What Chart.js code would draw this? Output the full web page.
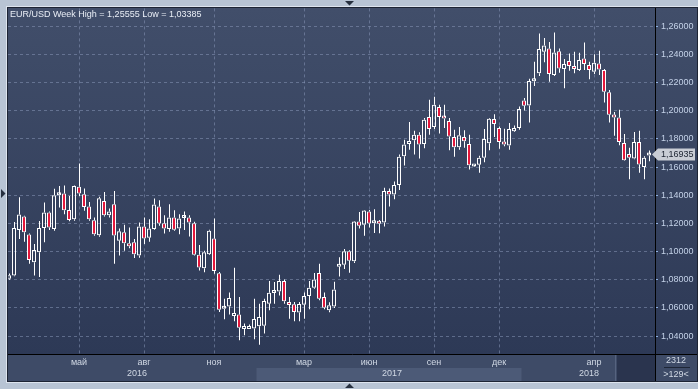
<!DOCTYPE html>
<html lang="ru">
<head>
<meta charset="UTF-8">
<title>EUR/USD Week</title>
<script src="https://cdn.jsdelivr.net/npm/chart.js"></script>
<style>
  html, body { margin: 0; padding: 0; background: #b8c4d4; }
  #chart { display: block; }
</style>
</head>
<body>
<canvas id="chart" width="698" height="389"></canvas>
<script>
// weekly EUR/USD candles, one entry per week
const opens = [
  1.0808, 1.0830, 1.1153, 1.1249, 1.1122, 1.0925, 1.0995, 1.1167, 1.1278, 1.1160,
  1.1400, 1.1412, 1.1296, 1.1230, 1.1461, 1.1407, 1.1320, 1.1223, 1.1117, 1.1360,
  1.1259, 1.1336, 1.1077, 1.1137, 1.1059, 1.1066, 1.0972, 1.1179, 1.1098, 1.1160,
  1.1320, 1.1202, 1.1160, 1.1243, 1.1165, 1.1238, 1.1243, 1.1202, 1.0978, 1.0882,
  1.0981, 1.1094, 1.0847, 1.0595, 1.0611, 1.0543, 1.0553, 1.0451, 1.0451, 1.0454,
  1.0470, 1.0473, 1.0630, 1.0706, 1.0717, 1.0791, 1.0635, 1.0626, 1.0567, 1.0623,
  1.0685, 1.0743, 1.0849, 1.0678, 1.0583, 1.0611, 1.0893, 1.0907, 1.1002, 1.0932,
  1.1214, 1.1190, 1.1285, 1.1202, 1.1214, 1.1207, 1.1430, 1.1405, 1.1473, 1.1677,
  1.1765, 1.1790, 1.1830, 1.1765, 1.1955, 1.1885, 1.2026, 1.1955, 1.1927, 1.1814,
  1.1741, 1.1814, 1.1765, 1.1605, 1.1617, 1.1666, 1.1770, 1.1941, 1.1878, 1.1781,
  1.1753, 1.1854, 1.1878, 1.2073, 1.2037, 1.2209, 1.2266, 1.2419, 1.2443, 1.2254,
  1.2423, 1.2296, 1.2353, 1.2318, 1.2289, 1.2372, 1.2325, 1.2277, 1.2336, 1.2289,
  1.2132, 1.1972, 1.1953, 1.1772, 1.1694, 1.1661, 1.1779, 1.1600, 1.1682
];
const highs = [
  1.0845, 1.1210, 1.1386, 1.1255, 1.1128, 1.1054, 1.1218, 1.1348, 1.1285, 1.1447,
  1.1466, 1.1470, 1.1395, 1.1470, 1.1626, 1.1449, 1.1353, 1.1243, 1.1390, 1.1423,
  1.1306, 1.1430, 1.1165, 1.1190, 1.1172, 1.1089, 1.1207, 1.1243, 1.1230, 1.1377,
  1.1365, 1.1259, 1.1336, 1.1294, 1.1266, 1.1285, 1.1259, 1.1212, 1.1047, 1.1007,
  1.1155, 1.1236, 1.0855, 1.0666, 1.0710, 1.0885, 1.0678, 1.0489, 1.0482, 1.0666,
  1.0630, 1.0666, 1.0791, 1.0784, 1.0835, 1.0802, 1.0678, 1.0642, 1.0642, 1.0710,
  1.0791, 1.0849, 1.0913, 1.0710, 1.0640, 1.0786, 1.0960, 1.1019, 1.1010, 1.1217,
  1.1282, 1.1296, 1.1296, 1.1301, 1.1225, 1.1454, 1.1449, 1.1497, 1.1689, 1.1795,
  1.1920, 1.1859, 1.1847, 1.1948, 1.2078, 1.2100, 1.2042, 1.2042, 1.1948, 1.1866,
  1.1885, 1.1861, 1.1830, 1.1615, 1.1681, 1.1871, 1.1948, 1.1976, 1.1889, 1.1873,
  1.1913, 1.1896, 1.2030, 1.2090, 1.2228, 1.2348, 1.2548, 1.2517, 1.2489, 1.25555,
  1.2443, 1.2367, 1.2407, 1.2419, 1.2412, 1.2484, 1.2348, 1.2402, 1.2426, 1.2296,
  1.2148, 1.1991, 1.2007, 1.1835, 1.1737, 1.1850, 1.1859, 1.1677, 1.1718
];
const lows = [
  1.0800, 1.0825, 1.1090, 1.1070, 1.0913, 1.0830, 1.0820, 1.1066, 1.1153, 1.1148,
  1.1313, 1.1266, 1.1215, 1.1220, 1.1395, 1.1290, 1.1220, 1.1113, 1.1105, 1.1249,
  1.1243, 1.0913, 1.0972, 1.1007, 1.1024, 1.0955, 1.0957, 1.1054, 1.1070, 1.1155,
  1.1183, 1.1129, 1.1141, 1.1148, 1.1124, 1.1153, 1.1108, 1.0972, 1.0866, 1.0854,
  1.0976, 1.0842, 1.0572, 1.0520, 1.0553, 1.0505, 1.0371, 1.0407, 1.0450, 1.0378,
  1.03385, 1.0419, 1.0583, 1.0630, 1.0689, 1.0630, 1.0524, 1.0505, 1.0505, 1.0524,
  1.0590, 1.0736, 1.0654, 1.0590, 1.0570, 1.0600, 1.0823, 1.0877, 1.0850, 1.0920,
  1.1165, 1.1113, 1.1172, 1.1132, 1.1130, 1.1179, 1.1320, 1.1372, 1.1437, 1.1612,
  1.1724, 1.1689, 1.1661, 1.1734, 1.1830, 1.1870, 1.1838, 1.1878, 1.1720, 1.1673,
  1.1724, 1.1737, 1.1583, 1.1600, 1.1560, 1.1635, 1.1720, 1.1814, 1.1731, 1.1748,
  1.1724, 1.1850, 1.1866, 1.2002, 1.1917, 1.2176, 1.2247, 1.2344, 1.2207, 1.2247,
  1.2270, 1.2160, 1.2285, 1.2266, 1.2283, 1.2289, 1.2224, 1.2261, 1.2254, 1.2059,
  1.1917, 1.1823, 1.1755, 1.1645, 1.1513, 1.1655, 1.1560, 1.1513, 1.1642
];
const closes = [
  1.0832, 1.1167, 1.1264, 1.1137, 1.0940, 1.1012, 1.1167, 1.1278, 1.1172, 1.1400,
  1.1407, 1.1294, 1.1225, 1.1466, 1.1412, 1.1317, 1.1230, 1.1124, 1.1379, 1.1259,
  1.1285, 1.1115, 1.1144, 1.1059, 1.1038, 1.0981, 1.1179, 1.1094, 1.1165, 1.1334,
  1.1200, 1.1165, 1.1243, 1.1155, 1.1236, 1.1243, 1.1207, 1.0978, 1.0887, 1.0995,
  1.1148, 1.0863, 1.0588, 1.0602, 1.0671, 1.0564, 1.0459, 1.0465, 1.0465, 1.0522,
  1.0536, 1.0649, 1.0708, 1.0717, 1.0791, 1.0647, 1.0621, 1.0572, 1.0628, 1.0685,
  1.0743, 1.0802, 1.0666, 1.0602, 1.0620, 1.0731, 1.0905, 1.1002, 1.0936, 1.1214,
  1.1183, 1.1292, 1.1200, 1.1214, 1.1197, 1.1430, 1.1405, 1.1473, 1.1673, 1.1760,
  1.1779, 1.1830, 1.1760, 1.1936, 1.1870, 1.2042, 1.1955, 1.1945, 1.1818, 1.1741,
  1.1826, 1.1783, 1.1614, 1.1608, 1.1667, 1.1800, 1.1943, 1.1906, 1.1779, 1.1760,
  1.1870, 1.1878, 1.2012, 1.2035, 1.2212, 1.2223, 1.2438, 1.2464, 1.2261, 1.2414,
  1.2301, 1.2332, 1.2318, 1.2296, 1.2360, 1.2332, 1.2289, 1.2341, 1.2294, 1.2136,
  1.1972, 1.1953, 1.1779, 1.1649, 1.1666, 1.1779, 1.1619, 1.1666, 1.16935
];

// axis labels: week index where each month label / grid line sits
const monthTickIdx = [14, 27, 41, 59, 72, 85, 98, 117];
const monthTickText = ['май', 'авг', 'ноя', 'мар', 'июн', 'сен', 'дек', 'апр'];
const yearText = ['2016', '2017', '2018'];
const yearPos = [25.6, 76.6, 116];
const yearBand2017 = [49.5, 102.5];
const priceTicks = [1.04, 1.06, 1.08, 1.10, 1.12, 1.14, 1.16, 1.18, 1.20, 1.22, 1.24, 1.26];

const FONT = "'Liberation Sans', Arial, sans-serif";
const FSIZE = 9;
const GRID = 'rgba(135,150,182,0.55)';
const RED = '#e4173b';
const fmt = v => v.toFixed(5).replace('.', ',');

const weeks = opens.map((_, i) => i);
const bodies = weeks.map(i => ({ x: i, y: [opens[i], closes[i]] }));
const upperWicks = weeks.map(i => ({ x: i, y: [Math.max(opens[i], closes[i]), highs[i]] }));
const lowerWicks = weeks.map(i => ({ x: i, y: [lows[i], Math.min(opens[i], closes[i])] }));

Chart.defaults.font.family = FONT;
Chart.defaults.font.size = FSIZE;

const wickStyle = {
    type: 'bar', xAxisID: 'xw', grouped: false, barThickness: 1,
    backgroundColor: '#ffffff', borderWidth: 0, inflateAmount: 0
};

// frame, panels and the extra texts around the plot
const frame = {
    id: 'frame',
    beforeDraw(chart) {
        const { ctx, chartArea: a, scales: { x } } = chart;
        ctx.save();
        ctx.fillStyle = '#b8c4d4';
        ctx.fillRect(0, 0, chart.width, chart.height);
        const g = ctx.createLinearGradient(0, a.top, 0, a.bottom);
        g.addColorStop(0, '#414e6a');
        g.addColorStop(1, '#2d3956');
        ctx.fillStyle = g;
        ctx.fillRect(8, 8, 690, a.bottom - 8);
        // bottom date strip
        ctx.fillStyle = '#3e4b67';
        ctx.fillRect(8, a.bottom, 690, 27);
        ctx.fillStyle = '#4c5a77';
        const b0 = x.getPixelForValue(yearBand2017[0]), b1 = x.getPixelForValue(yearBand2017[1]);
        ctx.fillRect(b0, a.bottom + 14, b1 - b0, 13);
        ctx.fillStyle = '#2a344e';
        ctx.fillRect(617, a.bottom + 1, a.right - 617, 26);
        ctx.fillStyle = '#56637f';
        ctx.fillRect(615, a.bottom + 1, 1, 26);
        ctx.restore();
    },
    afterDraw(chart) {
        const { ctx, chartArea: a, scales: { x, y } } = chart;
        ctx.save();
        // black axis lines
        ctx.strokeStyle = '#000';
        ctx.lineWidth = 1;
        ctx.beginPath();
        ctx.moveTo(8, a.bottom + 0.5); ctx.lineTo(697, a.bottom + 0.5);
        ctx.moveTo(a.right + 0.5, 8); ctx.lineTo(a.right + 0.5, 381);
        ctx.stroke();
        // panel border
        ctx.strokeStyle = '#1d2434';
        ctx.strokeRect(7.5, 7.5, 690, 374);
        ctx.strokeStyle = '#dde4ee';
        ctx.strokeRect(6.5, 6.5, 692, 376);

        ctx.font = FSIZE + 'px ' + FONT;
        ctx.textBaseline = 'middle';
        // title
        ctx.fillStyle = '#e8edf5';
        ctx.textAlign = 'left';
        ctx.fillText('EUR/USD Week High = ' + fmt(Math.max(...highs)) +
                     ' Low = ' + fmt(Math.min(...lows)), 10, 15);
        // year row
        ctx.fillStyle = '#d0d8e4';
        ctx.textAlign = 'center';
        yearText.forEach((t, k) => ctx.fillText(t, x.getPixelForValue(yearPos[k]), a.bottom + 20));
        // bottom right box
        ctx.fillText('2312', 676, a.bottom + 7);
        ctx.fillText('>129<', 676, a.bottom + 21);
        ctx.fillStyle = '#1e2636';
        ctx.fillRect(664, a.bottom + 13, 26, 1);

        // last price tag
        const last = closes[closes.length - 1];
        const py = Math.round(y.getPixelForValue(last)) + 0.5;
        ctx.fillStyle = '#c9cdd5';
        ctx.beginPath();
        ctx.moveTo(652, py);
        ctx.lineTo(658, py - 6);
        ctx.lineTo(695, py - 6);
        ctx.lineTo(695, py + 6);
        ctx.lineTo(658, py + 6);
        ctx.closePath();
        ctx.fill();
        ctx.fillStyle = '#1b2230';
        ctx.textAlign = 'left';
        ctx.fillText(fmt(last), 661, py);

        // small frame arrows
        ctx.fillStyle = '#27303f';
        ctx.beginPath();
        ctx.moveTo(345, 1); ctx.lineTo(354, 1); ctx.lineTo(349.5, 5.5); ctx.closePath();
        ctx.moveTo(345, 388); ctx.lineTo(354, 388); ctx.lineTo(349.5, 383.5); ctx.closePath();
        ctx.moveTo(1, 189); ctx.lineTo(1, 198); ctx.lineTo(5.5, 193.5); ctx.closePath();
        ctx.fill();
        ctx.restore();
    }
};

new Chart(document.getElementById('chart'), {
    type: 'bar',
    data: {
        datasets: [
            Object.assign({ data: upperWicks }, wickStyle),
            Object.assign({ data: lowerWicks }, wickStyle),
            {
                type: 'bar',
                data: bodies,
                xAxisID: 'x',
                grouped: false,
                barThickness: 4,
                minBarLength: 3,
                borderWidth: 1,
                borderColor: '#ffffff',
                borderSkipped: false,
                inflateAmount: 0,
                backgroundColor: weeks.map(i => closes[i] >= opens[i] ? 'rgba(0,0,0,0)' : RED)
            }
        ]
    },
    options: {
        responsive: false,
        animation: false,
        devicePixelRatio: 1,
        events: [],
        layout: { padding: { left: 8, top: 8, right: 1, bottom: 8 } },
        plugins: { legend: { display: false }, tooltip: { enabled: false } },
        scales: {
            x: {
                type: 'linear', position: 'bottom', min: -0.2, max: 129.2, offset: false,
                afterBuildTicks: s => { s.ticks = monthTickIdx.map(v => ({ value: v })); },
                afterFit: s => { s.height = 27; },
                grid: { color: GRID, drawTicks: false, offset: false },
                border: { display: false, dash: [3, 3] },
                ticks: {
                    color: '#d0d8e4', padding: 3, maxRotation: 0, autoSkip: false,
                    callback: (v, i) => monthTickText[i]
                }
            },
            xw: { type: 'linear', display: false, offset: false, min: -0.3, max: 129.1 },
            y: {
                type: 'linear', position: 'right', min: 1.0273, max: 1.2727,
                afterBuildTicks: s => { s.ticks = priceTicks.map(v => ({ value: v })); },
                afterFit: s => { s.width = 42; },
                grid: { color: GRID, tickColor: '#8fb0e0', tickLength: 3, tickBorderDash: [] },
                border: { display: false, dash: [3, 3] },
                ticks: { color: '#c4d2e8', padding: 3, callback: v => fmt(v) }
            }
        }
    },
    plugins: [frame]
});
</script>
</body>
</html>
